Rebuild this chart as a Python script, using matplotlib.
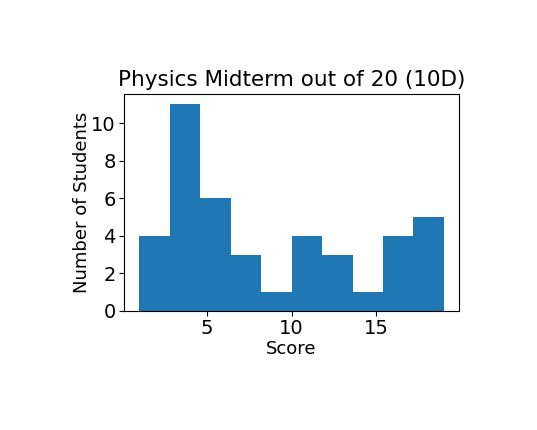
import matplotlib
matplotlib.use("Agg")
import matplotlib.pyplot as plt
import numpy as np
from matplotlib.ticker import MultipleLocator

# histogram of scores, 10 bins between 1 and 19
bin_edges = np.linspace(1, 19, 11)
counts = [4, 11, 6, 3, 1, 4, 3, 1, 4, 5]

title = "Physics Midterm out of 20 (10D)"
xlabel = "Score"
ylabel = "Number of Students"

fig = plt.figure(figsize=(5.37, 4.30), dpi=100)
ax = fig.add_axes([0.231, 0.277, 0.624, 0.504])

ax.hist(bin_edges[:-1], bins=bin_edges, weights=counts, color="#1f77b4")

ax.yaxis.set_major_locator(MultipleLocator(2))
ax.xaxis.set_major_locator(MultipleLocator(5))

ax.set_title(title, fontsize=15.5)
ax.set_xlabel(xlabel, fontsize=13, labelpad=1)
ax.set_ylabel(ylabel, fontsize=13, labelpad=0)
ax.tick_params(labelsize=14, pad=2.5)

fig.savefig("out.png", dpi=100)
